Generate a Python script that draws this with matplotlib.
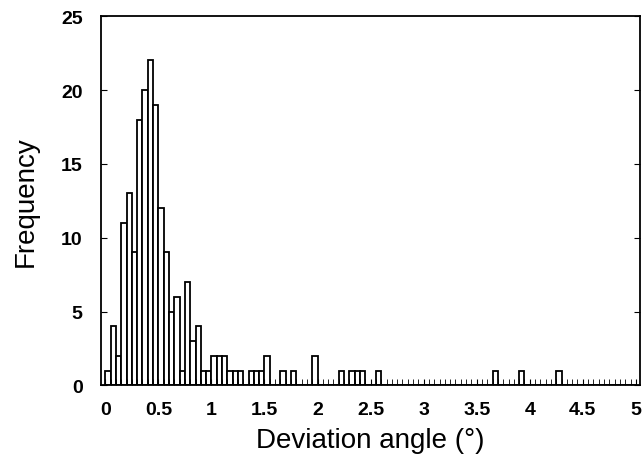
import matplotlib.pyplot as plt
import numpy as np

plt.rcParams['font.family'] = ['Liberation Sans', 'DejaVu Sans']

# histogram of deviation angles, bins of 0.05 deg from 0 to 5
bin_width = 0.05
bin_starts = np.arange(100) * bin_width
counts = [1, 4, 2, 11, 13, 9, 18, 20, 22, 19,
          12, 9, 5, 6, 1, 7, 3, 4, 1, 1,
          2, 2, 2, 1, 1, 1, 0, 1, 1, 1,
          2, 0, 0, 1, 0, 1, 0, 0, 0, 2,
          0, 0, 0, 0, 1, 0, 1, 1, 1, 0,
          0, 1, 0, 0, 0, 0, 0, 0, 0, 0,
          0, 0, 0, 0, 0, 0, 0, 0, 0, 0,
          0, 0, 0, 1, 0, 0, 0, 0, 1, 0,
          0, 0, 0, 0, 0, 1, 0, 0, 0, 0,
          0, 0, 0, 0, 0, 0, 0, 0, 0, 0]
x_ticks = [0, 0.5, 1, 1.5, 2, 2.5, 3, 3.5, 4, 4.5, 5]
x_labels = ['0', '0.5', '1', '1.5', '2', '2.5', '3', '3.5', '4', '4.5', '5']
y_ticks = [0, 5, 10, 15, 20, 25]

fig = plt.figure(figsize=(6.42, 4.77), dpi=100)
ax = fig.add_axes([0.157, 0.19, 0.84, 0.774])

ax.bar(bin_starts, counts, width=bin_width, align='edge',
       facecolor='white', edgecolor='black', linewidth=1.3)

ax.set_xlim(-0.043, 5.04)
ax.set_ylim(0, 25)
ax.set_xticks(x_ticks)
ax.set_xticklabels(x_labels)
ax.set_yticks(y_ticks)
ax.set_xticks(bin_starts, minor=True)

ax.tick_params(axis='x', which='major', direction='in', length=4, pad=11,
               labelsize=14)
ax.tick_params(axis='x', which='minor', direction='in', length=4)
ax.tick_params(axis='y', direction='in', length=4, pad=13, labelsize=14,
               right=True)
for lab in ax.get_xticklabels() + ax.get_yticklabels():
    lab.set_fontweight('bold')

for s in ax.spines.values():
    s.set_linewidth(1.3)

ax.set_xlabel('Deviation angle (°)', fontsize=20, labelpad=7)
ax.set_ylabel('Frequency', fontsize=20, labelpad=16)

fig.savefig('out.png', dpi=100)
